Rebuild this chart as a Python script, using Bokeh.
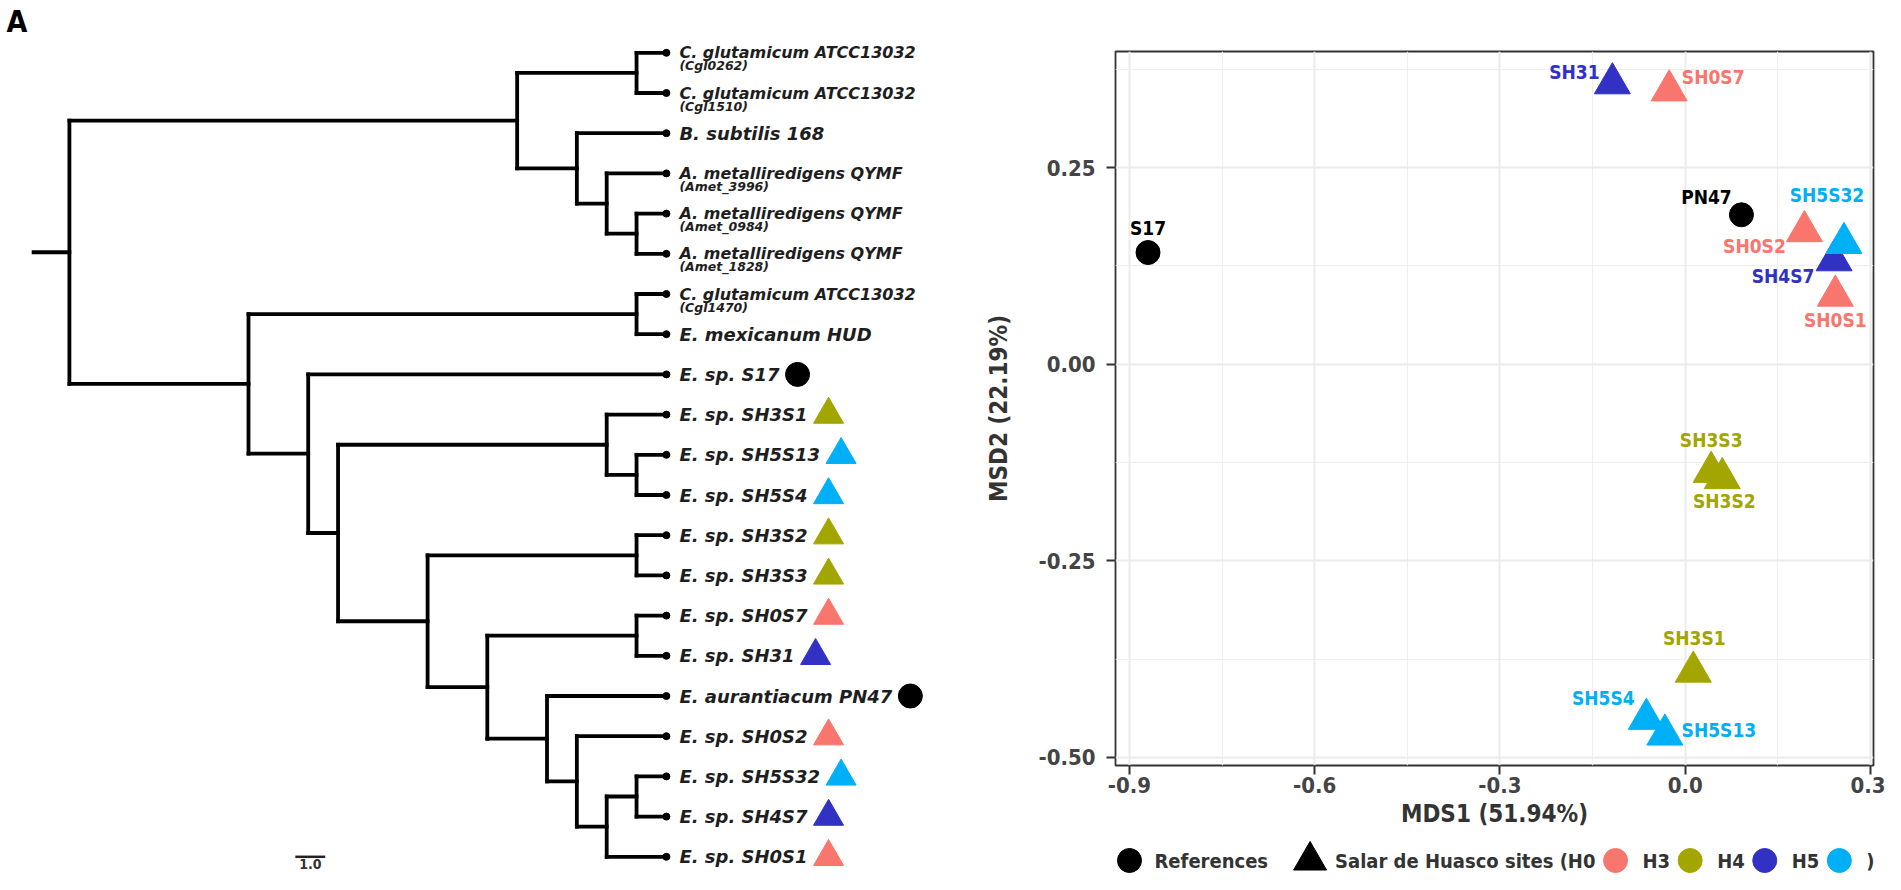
from bokeh.plotting import figure
from bokeh.models import Range1d, FixedTicker, Label, ColumnDataSource
from bokeh.layouts import row, column
from bokeh.embed import file_html
from bokeh.resources import INLINE
from bokeh.core.properties import value

# ---------------- data: panel A (tree) ----------------
tip_names = [
    "C. glutamicum ATCC13032", "C. glutamicum ATCC13032", "B. subtilis 168",
    "A. metalliredigens QYMF", "A. metalliredigens QYMF", "A. metalliredigens QYMF",
    "C. glutamicum ATCC13032", "E. mexicanum HUD", "E. sp. S17", "E. sp. SH3S1",
    "E. sp. SH5S13", "E. sp. SH5S4", "E. sp. SH3S2", "E. sp. SH3S3", "E. sp. SH0S7",
    "E. sp. SH31", "E. aurantiacum PN47", "E. sp. SH0S2", "E. sp. SH5S32",
    "E. sp. SH4S7", "E. sp. SH0S1",
]
tip_subnames = [
    "(Cgl0262)", "(Cgl1510)", "", "(Amet_3996)", "(Amet_0984)", "(Amet_1828)",
    "(Cgl1470)", "", "", "", "", "", "", "", "", "", "", "", "", "", "",
]
tip_sites = [
    "", "", "", "", "", "", "", "", "Ref", "H3", "H5", "H5", "H3", "H3", "H0",
    "H4", "Ref", "H0", "H5", "H4", "H0",
]
# internal nodes: depth from root (branch-length units) and children
node_depth = {
    "root": 0, "up": 15, "cgl": 19, "ba": 17, "amet": 18, "amet2": 19,
    "low": 6, "ce": 19, "n8": 8, "n9": 9, "sh35": 18, "sh5": 19, "n12": 12,
    "sh3": 19, "n14": 14, "sh0": 19, "n16": 16, "n17": 17, "n18": 18, "sh54": 19,
}
node_children = {
    "root": ["up", "low"], "up": ["cgl", "ba"], "cgl": [0, 1], "ba": [2, "amet"],
    "amet": [3, "amet2"], "amet2": [4, 5], "low": ["ce", "n8"], "ce": [6, 7],
    "n8": [8, "n9"], "n9": ["sh35", "n12"], "sh35": [9, "sh5"], "sh5": [10, 11],
    "n12": ["sh3", "n14"], "sh3": [12, 13], "n14": ["sh0", "n16"], "sh0": [14, 15],
    "n16": [16, "n17"], "n17": [17, "n18"], "n18": ["sh54", 20], "sh54": [18, 19],
}
tip_depth = 20.0
root_stub = 1.2
scale_bar_start = 7.57
scale_bar_length = 1.0
scale_bar_label = "1.0"

# ---------------- data: panel B (MDS) ----------------
mds_names = ["S17", "PN47", "SH31", "SH0S7", "SH0S2", "SH4S7", "SH5S32", "SH0S1",
             "SH3S3", "SH3S2", "SH3S1", "SH5S4", "SH5S13"]
mds1 = [-0.870, 0.091, -0.118, -0.026, 0.193, 0.241, 0.257, 0.243,
        0.042, 0.060, 0.013, -0.063, -0.033]
mds2 = [0.142, 0.190, 0.357, 0.348, 0.169, 0.132, 0.154, 0.087,
        -0.137, -0.145, -0.391, -0.451, -0.471]
mds_sites = ["Ref", "Ref", "H4", "H0", "H0", "H4", "H5", "H0",
             "H3", "H3", "H3", "H5", "H5"]
x_ticks = [-0.9, -0.6, -0.3, 0.0, 0.3]
x_tick_labels = ["-0.9", "-0.6", "-0.3", "0.0", "0.3"]
y_ticks = [0.25, 0.0, -0.25, -0.5]
y_tick_labels = ["0.25", "0.00", "-0.25", "-0.50"]
x_title = "MDS1 (51.94%)"
y_title = "MSD2 (22.19%)"
legend_labels = ["References", "Salar de Huasco sites (H0", "H3", "H4", "H5", ")"]
legend_sites = ["Ref", "SH", "H0", "H3", "H4", "H5"]

# ---------------- styles ----------------
site_color = {"Ref": "#000000", "SH": "#000000", "H0": "#F8766D", "H3": "#A3A500",
              "H4": "#3131C4", "H5": "#00B0F6"}
site_marker = {"Ref": "circle", "SH": "triangle", "H0": "triangle", "H3": "triangle",
               "H4": "triangle", "H5": "triangle"}
COND_S = "DejaVu Sans Condensed"
COND = value(COND_S)
TREEFONT = value("DejaVu Sans")

DJV_BOLD = {' ': 0.348, '.': 0.380, 'E': 0.683, 's': 0.595, 'p': 0.716, 'S': 0.721,
            'H': 0.837, 'a': 0.675, 'u': 0.712, 'r': 0.493, 'n': 0.712, 't': 0.478,
            'i': 0.343, 'c': 0.593, 'm': 1.042, 'P': 0.733, 'N': 0.837, 'R': 0.770,
            'e': 0.678, 'f': 0.435, 'l': 0.343, 'd': 0.716, 'o': 0.687, '(': 0.457,
            ')': 0.457}
for d in "0123456789":
    DJV_BOLD[d] = 0.696
DJV_COND_BOLD = {k: v * 0.9 for k, v in DJV_BOLD.items()}


def text_width(s, table, size):
    return sum(table.get(ch, 0.65) for ch in s) * size


H = 874
# ---------------- panel A ----------------
W_A = 952
PX = 29.85          # px per branch-length unit
X0 = 68.9           # px of root
TIP_STEP = 40.2     # px between tips
Y0 = 52.3           # px of first tip

pA = figure(width=W_A, height=H, output_backend="svg", toolbar_location=None,
            x_range=Range1d(-X0 / PX, (W_A - X0) / PX),
            y_range=Range1d((H - Y0) / TIP_STEP, -Y0 / TIP_STEP),
            min_border=0, x_axis_location=None, y_axis_location=None)
pA.frame_align = False
pA.grid.visible = False
pA.outline_line_color = None
pA.background_fill_color = "white"


def depth(n):
    return tip_depth if isinstance(n, int) else node_depth[n]


def node_y(n):
    if isinstance(n, int):
        return float(n)
    ch = node_children[n]
    return sum(node_y(c) for c in ch) / len(ch)


xs0, ys0, xs1, ys1 = [], [], [], []
for n, ch in node_children.items():
    x = node_depth[n]
    cys = [node_y(c) for c in ch]
    xs0.append(x); xs1.append(x); ys0.append(min(cys)); ys1.append(max(cys))
    for c in ch:
        cy = node_y(c)
        xs0.append(x); xs1.append(depth(c)); ys0.append(cy); ys1.append(cy)
ry = node_y("root")
xs0.append(-root_stub); xs1.append(0); ys0.append(ry); ys1.append(ry)
pA.segment(x0=xs0, y0=ys0, x1=xs1, y1=ys1, line_width=3.8, line_color="black",
           line_cap="square")

tips_y = list(range(len(tip_names)))
pA.scatter(x=[tip_depth] * len(tip_names), y=tips_y, size=7, color="black")

LBL_OFF = 13
MAIN_FS = 18
single = [i for i in tips_y if tip_subnames[i] == ""]
double = [i for i in tips_y if tip_subnames[i] != ""]
pA.text(x=[tip_depth + LBL_OFF / PX] * len(single), y=single,
        text=[tip_names[i] for i in single], text_font=TREEFONT,
        text_font_style="bold italic", text_font_size=f"{MAIN_FS}px",
        text_color="#1e1e1e", text_baseline="middle", text_align="left")
pA.text(x=[tip_depth + LBL_OFF / PX] * len(double), y=double,
        text=[tip_names[i] for i in double], text_font=TREEFONT,
        text_font_style="bold italic", text_font_size="16px", text_color="#1e1e1e",
        text_baseline="middle", text_align="left")
pA.text(x=[tip_depth + LBL_OFF / PX] * len(double),
        y=[i + 13 / TIP_STEP for i in double],
        text=[tip_subnames[i] for i in double], text_font=TREEFONT,
        text_font_style="bold italic", text_font_size="12.5px", text_color="#1e1e1e",
        text_baseline="middle", text_align="left")

GAP = 6
mk = [i for i in tips_y if tip_sites[i]]
mk_size = [24 if site_marker[tip_sites[i]] == "circle" else 30 for i in mk]
mk_src = ColumnDataSource(dict(
    x=[tip_depth + (LBL_OFF + text_width(tip_names[i], DJV_BOLD, MAIN_FS) + GAP + s / 2)
       / PX for i, s in zip(mk, mk_size)],
    y=mk,
    color=[site_color[tip_sites[i]] for i in mk],
    marker=[site_marker[tip_sites[i]] for i in mk],
    size=mk_size,
))
pA.scatter(x="x", y="y", marker="marker", size="size", color="color", source=mk_src)

last = len(tip_names) - 1
pA.segment(x0=[scale_bar_start], y0=[last], x1=[scale_bar_start + scale_bar_length],
           y1=[last], line_width=2.5, line_color="#222222")
pA.text(x=[scale_bar_start + scale_bar_length / 2], y=[last + 7.5 / TIP_STEP],
        text=[scale_bar_label], text_font=COND, text_font_style="bold",
        text_font_size="14px", text_color="#333333", text_align="center",
        text_baseline="middle")
pA.add_layout(Label(x=6, y=H - 21, x_units="screen", y_units="screen", text="A",
                    text_font=COND_S, text_font_style="bold", text_font_size="30px",
                    text_color="black", text_baseline="middle"))

# ---------------- panel B ----------------
W_B = 1885 - W_A
H_L = 34
H_B = H - H_L
BL, BR, BT, BB = 163, 12, 51, 75
XR = (-0.92267, 0.30486)
YR = (-0.5102, 0.3976)
fw = W_B - BL - BR
fh = H_B - BT - BB
px_x = fw / (XR[1] - XR[0])
px_y = fh / (YR[1] - YR[0])

pB = figure(width=W_B, height=H_B, output_backend="svg", toolbar_location=None,
            x_range=Range1d(*XR), y_range=Range1d(*YR),
            min_border_left=BL, min_border_right=BR, min_border_top=BT,
            min_border_bottom=BB)
pB.frame_align = False
pB.background_fill_color = "white"
pB.outline_line_color = "#333333"
pB.outline_line_width = 1.8

x_minor = [(a + b) / 2 for a, b in zip(x_ticks[:-1], x_ticks[1:])]
y_minor = [(a + b) / 2 for a, b in zip(y_ticks[:-1], y_ticks[1:])] + [0.375]
pB.xaxis.ticker = FixedTicker(ticks=x_ticks, minor_ticks=x_minor)
pB.yaxis.ticker = FixedTicker(ticks=y_ticks, minor_ticks=y_minor)
pB.xaxis.major_label_overrides = dict(zip(x_ticks, x_tick_labels))
pB.yaxis.major_label_overrides = dict(zip(y_ticks, y_tick_labels))
for g in (pB.xgrid, pB.ygrid):
    g.grid_line_color = "#EBEBEB"
    g.grid_line_width = 2
    g.minor_grid_line_color = "#EEEEEE"
    g.minor_grid_line_width = 1.2
for ax in (pB.xaxis, pB.yaxis):
    ax.axis_line_color = None
    ax.major_tick_out = 9
    ax.major_tick_in = 0
    ax.major_tick_line_color = "#333333"
    ax.major_tick_line_width = 2
    ax.minor_tick_line_color = None
    ax.major_label_text_font = COND_S
    ax.major_label_text_font_style = "bold"
    ax.major_label_text_font_size = "22px"
    ax.major_label_text_color = "#444444"
    ax.axis_label_text_font = COND_S
    ax.axis_label_text_font_style = "bold"
    ax.axis_label_text_font_size = "24px"
    ax.axis_label_text_color = "#333333"
pB.xaxis.axis_label = x_title
pB.yaxis.axis_label = y_title
pB.xaxis.major_label_standoff = 2
pB.xaxis.axis_label_standoff = 4
pB.yaxis.major_label_standoff = 11
pB.yaxis.axis_label_standoff = 22

pt_src = ColumnDataSource(dict(
    x=mds1, y=mds2,
    color=[site_color[s] for s in mds_sites],
    marker=[site_marker[s] for s in mds_sites],
    size=[24 if site_marker[s] == "circle" else 36 for s in mds_sites],
))
pB.scatter(x="x", y="y", marker="marker", size="size", color="color", source=pt_src)

# label offsets from each point, px (right, down)
label_dx = [0, -35, -38, 44, -50, -51, -17, 0, 0, 2, 1, -43, 54]
label_dy = [-25, -18, -11, -14, 15, 16, -48, 24, -32, 23, -34, -21, -5]
pB.text(x=[x + dx / px_x for x, dx in zip(mds1, label_dx)],
        y=[y - dy / px_y for y, dy in zip(mds2, label_dy)],
        text=mds_names, text_color=[site_color[s] for s in mds_sites],
        text_font=COND, text_font_style="bold", text_font_size="19px",
        text_align="center", text_baseline="middle")

pB.add_layout(Label(x=-146, y=fh - 22 + BT, x_units="screen", y_units="screen",
                    text="B", text_font=COND_S, text_font_style="bold",
                    text_font_size="30px", text_color="black", text_baseline="middle"))

# ---------------- legend (below panel B) ----------------
pL = figure(width=W_B, height=H_L, output_backend="svg", toolbar_location=None,
            x_range=Range1d(0, W_B), y_range=Range1d(0, H_L), min_border=0,
            x_axis_location=None, y_axis_location=None)
pL.frame_align = False
pL.grid.visible = False
pL.outline_line_color = None
LEG_FS = 20
gx, tx = [], []
cur = BL + 14
standoffs = [25, 25, 27, 27, 27, 27]
gaps = [42, 20, 20, 20, 20, 0]
for lab, so, gap in zip(legend_labels, standoffs, gaps):
    gx.append(cur)
    tx.append(cur + so)
    cur = cur + so + text_width(lab, DJV_COND_BOLD, LEG_FS) + gap
LY = 14
leg_src = ColumnDataSource(dict(
    x=gx, y=[LY] * len(gx),
    color=[site_color[s] for s in legend_sites],
    marker=[site_marker[s] if s in ("Ref", "SH") else "circle" for s in legend_sites],
    size=[24 if s != "SH" else 33 for s in legend_sites],
))
pL.scatter(x="x", y="y", marker="marker", size="size", color="color", source=leg_src)
pL.text(x=tx, y=[LY] * len(tx), text=legend_labels, text_font=COND,
        text_font_style="bold", text_font_size=f"{LEG_FS}px", text_color="#333333",
        text_align="left", text_baseline="middle")

layout = row(pA, column(pB, pL, spacing=0), spacing=0)
open("out.html", "w").write(file_html(layout, INLINE))
